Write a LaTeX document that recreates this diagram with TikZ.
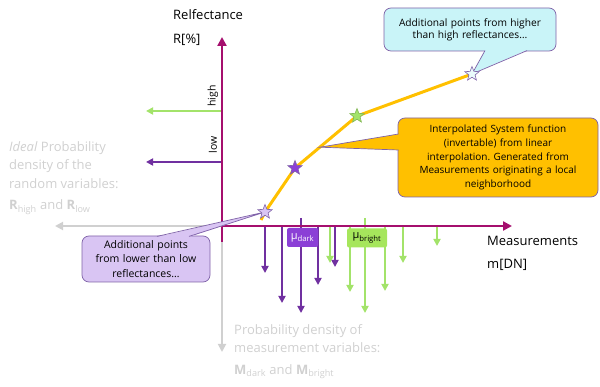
\documentclass[tikz,border=0pt]{standalone}
\usepackage{fontspec}
\setmainfont{Open Sans}
\usepackage{xcolor}
\usepackage{tikz}
\usetikzlibrary{arrows.meta,positioning,shapes.geometric,calc}
\definecolor{axismagenta}{HTML}{A50F6E}
\definecolor{ghostgray}{HTML}{D0D0D0}
\definecolor{darkpurple}{HTML}{7030A0}
\definecolor{brightgreen}{HTML}{A3E36A}
\definecolor{curveorange}{HTML}{FFC000}
\definecolor{edgepurple}{HTML}{7F62A8}
\definecolor{hintcyan}{HTML}{C9F4F8}
\definecolor{hintlilac}{HTML}{D9C5F3}
\definecolor{mudark}{HTML}{8B3FD6}
\definecolor{mubright}{HTML}{A6E65C}
\frenchspacing

\begin{document}
\begin{tikzpicture}[
			x=1pt,
			y=-1pt,
			line cap=butt,
			axis/.style={line width=2.6pt,axismagenta,-{Triangle[length=9pt,width=9pt]}},
			ghost/.style={line width=1.8pt,ghostgray,-{Triangle[length=8pt,width=8pt]}},
			darkarrow/.style={line width=1.7pt,darkpurple,-{Triangle[length=7pt,width=7pt]}},
			brightarrow/.style={line width=1.7pt,brightgreen,-{Triangle[length=7pt,width=7pt]}},
			sysfun/.style={line width=3pt,curveorange,line join=round},
			sample/.style={star,star points=5,star point ratio=2.3,minimum size=15pt,inner sep=0pt,draw=edgepurple,line width=.6pt},
			bubble/.style={draw=edgepurple,line width=.7pt,rounded corners=7pt,align=center,inner sep=2pt,font=\fontsize{10.2}{12}\selectfont},
			pointer/.style={draw=edgepurple,line width=.7pt,line join=miter},
			mubox/.style={rounded corners=2pt,minimum width=31pt,minimum height=19pt,inner sep=0pt,font=\fontsize{11}{12}\selectfont},
			axislabel/.style={anchor=west,inner sep=0pt,font=\fontsize{13}{15}\selectfont},
			ghosttext/.style={anchor=north west,inner sep=0pt,align=left,text=ghostgray,font=\fontsize{13}{18.5}\selectfont}
			]
			\useasboundingbox (0,0) rectangle (600,387);
			
			% sample points of the system function
			\coordinate (p0) at (261,220);
			\coordinate (p1) at (265,212);
			\coordinate (p2) at (295,168);
			\coordinate (p3) at (357,116);
			\coordinate (p4) at (472,74);
			\coordinate (orig) at (222,226);
			
			%------------------------------
			% measurement densities (below the m axis)
			%------------------------------
			\foreach \x/\tip in {265/273,282/303,318/285,335/267}{
				\draw[darkarrow] (\x,226) -- (\x,\tip);
			}
			\foreach \x/\tip in {330/263,350/292,385/291,403/263,437/246}{
				\draw[brightarrow] (\x,226) -- (\x,\tip);
			}
			\draw[darkarrow] (301,218) -- (301,313);
			\draw[brightarrow] (365,218) -- (365,313);
			\node[mubox,fill=mudark,text=white] (mu_dark) at (302.5,237.5) {μ\textsubscript{dark}};
			\node[mubox,fill=mubright,minimum width=40pt] (mu_bright) at (367,238) {μ\textsubscript{bright}};
			
			%------------------------------
			% ideal reflectance densities (left of the R axis)
			%------------------------------
			\draw[ghost] (orig) ++(-5,0) -- (55,226);
			\draw[ghost] (222,242) -- (222,352);
			\draw[brightarrow] (222,111) -- (146,111);
			\draw[darkarrow] (222,162) -- (146,162);
			\node[rotate=90,font=\fontsize{10.5}{12}\selectfont,inner sep=0pt] (lbl_high) at (213,96) {high};
			\node[rotate=90,font=\fontsize{10.5}{12}\selectfont,inner sep=0pt] (lbl_low) at (213,145) {low};
			
			% axes
			\draw[axis] (217,226) -- (512,226);
			\draw[axis] (222,242) -- (222,37);
			\node[axislabel] (r_name) at (173,15) {Relfectance};
			\node[axislabel] (r_unit) at (173,40) {R[\%]};
			\node[axislabel] (m_name) at (487,241) {Measurements};
			\node[axislabel] (m_unit) at (487,265) {m[DN]};
			
			% interpolated system function
			\draw[sysfun] (p0) -- (p1) -- (p2) -- (p3) -- (p4);
			
			%------------------------------
			% callouts
			%------------------------------
			\node[bubble,fill=hintcyan,minimum width=172pt,minimum height=43pt,text width=165pt] (hint_high) at (470,29.5)
				{Additional points from higher\\than high reflectances…};
			\fill[hintcyan] (485,50) -- (p4) -- (527,50) -- cycle;
			\draw[pointer] (485,50.6) -- (p4) -- (527,50.6);
			
			\node[bubble,fill=curveorange,minimum width=200pt,minimum height=79pt,text width=194pt,font=\fontsize{10}{13.8}\selectfont] (hint_fun) at (498,157.5)
				{Interpolated System function\\(invertable) from linear\\interpolation. Generated from\\Measurements originating a local\\neighborhood};
			\coordinate (fun_tip) at ($(p2)!0.4!(p3)$);
			\fill[curveorange] (399,134) -- (fun_tip) -- (399,150) -- cycle;
			\draw[pointer] (398.6,134) -- (fun_tip) -- (398.6,150);
			
			\node[bubble,fill=hintlilac,minimum width=128pt,minimum height=46pt,text width=124pt,font=\fontsize{10.5}{14.5}\selectfont] (hint_low) at (146,259)
				{Additional points\\from lower than low\\reflectances…};
			\fill[hintlilac] (157,237) -- (p1) -- (189,237) -- cycle;
			\draw[pointer] (157,236.4) -- (p1) -- (189,236.4);
			
			% sample stars on top
			\node[sample,fill=hintlilac] (s_low) at (p1) {};
			\node[sample,fill=mudark] (s_dark) at (p2) {};
			\node[sample,fill=brightgreen,draw=brightgreen!80!black] (s_bright) at (p3) {};
			\node[sample,fill=hintcyan!40!white] (s_high) at (p4) {};
			
			%------------------------------
			% grey explanations
			%------------------------------
			\node[ghosttext] (ideal_txt) at (9,141)
				{\textit{Ideal} Probability\\density of the\\random variables:\\[3pt]\textbf{R}\textsubscript{high} and \textbf{R}\textsubscript{low}};
			\node[ghosttext] (meas_txt) at (234,324)
				{Probability density of\\measurement variables:\\[3pt]\textbf{M}\textsubscript{dark} and \textbf{M}\textsubscript{bright}};
		\end{tikzpicture}
\end{document}
